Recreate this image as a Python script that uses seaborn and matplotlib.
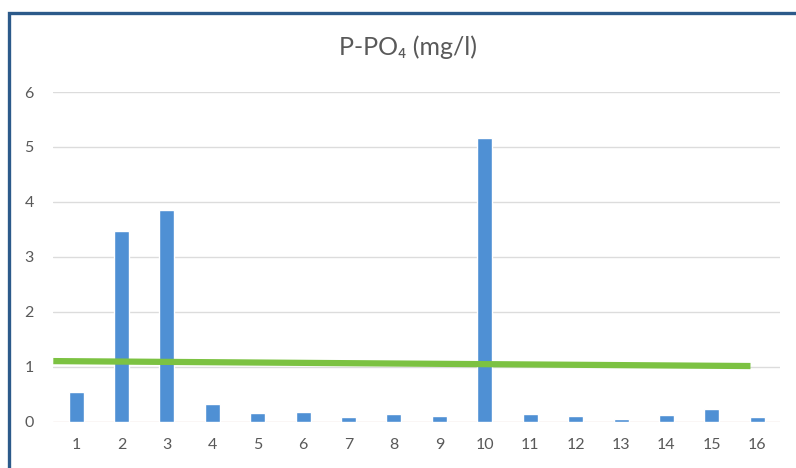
import matplotlib
matplotlib.use("Agg")
import matplotlib.pyplot as plt
import seaborn as sns
import pandas as pd
from matplotlib.patches import Rectangle

# Sampling sites and measured phosphate-phosphorus concentration (mg/l)
sites = [str(i) for i in range(1, 17)]
p_po4 = [0.54, 3.46, 3.85, 0.32, 0.15, 0.18, 0.08, 0.14,
         0.10, 5.16, 0.13, 0.10, 0.04, 0.12, 0.22, 0.09]

# Limit line: start/end positions (category index) and values
limit_x = [-0.5, 14.85]
limit_y = [1.10, 1.01]

y_ticks = [0, 1, 2, 3, 4, 5, 6]

sns.set_theme(style="white")
plt.rcParams["font.family"] = ["Lato", "DejaVu Sans"]

df = pd.DataFrame({"site": sites, "value": p_po4})

fig = plt.figure(figsize=(7.96, 4.68), dpi=100)
ax = fig.add_axes([53.3 / 796, (468 - 421.5) / 468, (780 - 53.3) / 796, (421.5 - 92) / 468])

sns.barplot(data=df, x="site", y="value", color="#4f90d4", width=0.33,
            saturation=1, ax=ax, zorder=3)

ax.plot(limit_x, limit_y, color="#7cc242", linewidth=4.5, solid_capstyle="butt",
        zorder=4)

ax.set_xlim(-0.5, 15.5)
ax.set_ylim(0, 6)
ax.set_yticks(y_ticks)
ax.set_yticklabels([str(t) for t in y_ticks])
for t in y_ticks[1:]:
    ax.axhline(t, color="#dcdcdc", linewidth=1.0, zorder=1)
ax.axhline(0, color="#e8d6cc", linewidth=1.0, zorder=2)

for s in ax.spines.values():
    s.set_visible(False)
ax.tick_params(axis="both", length=0, labelsize=11.5, labelcolor="#595959")
ax.tick_params(axis="x", pad=12)
ax.tick_params(axis="y", pad=14)
ax.set_xlabel("")
ax.set_ylabel("")

fig.text(408 / 796, 1 - 47 / 468, "P-PO\u2084 (mg/l)", ha="center", va="center",
         fontsize=18, color="#595959")

# Chart frame
fig.patches.append(Rectangle((8.5 / 796, -0.1), 1.2, 1 - 12.5 / 468 + 0.1,
                             transform=fig.transFigure, fill=False,
                             edgecolor="#2c5a8a", linewidth=2.4, zorder=10))

fig.savefig("out.png", dpi=100)
